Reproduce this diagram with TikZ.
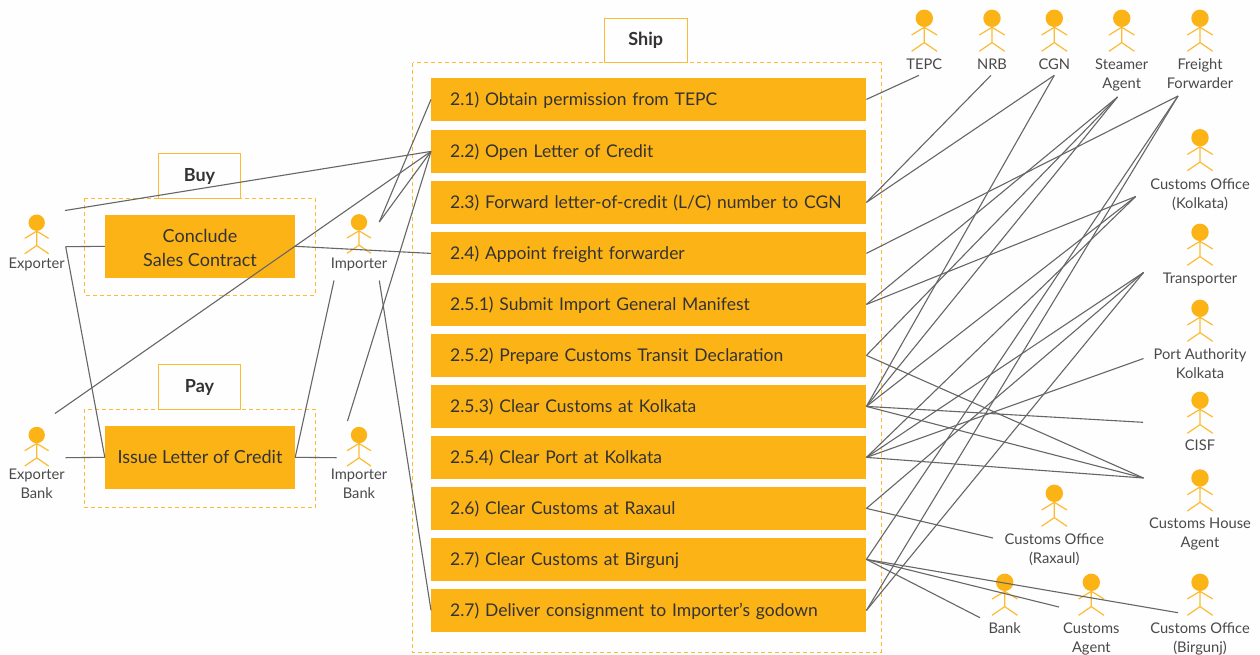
\documentclass[tikz,border=0pt]{standalone}
\usepackage{fontspec}
\setmainfont{Lato}
\definecolor{amber}{HTML}{FCB316}
\definecolor{edgeline}{HTML}{FDBB33}
\definecolor{wire}{HTML}{666666}
\definecolor{ink}{HTML}{333333}
\definecolor{soft}{HTML}{4A4A4A}
\definecolor{paper}{HTML}{FDFEFD}
\tikzset{
  x=1pt,y=-1pt,
  taskbox/.style={anchor=west,fill=amber,inner ysep=0pt,inner xsep=19pt,text width=397pt,align=left,
    minimum height=42.7pt,text=ink,font=\fontsize{17.5}{24}\selectfont,text height=13pt,text depth=1pt},
  activity/.style={fill=amber,inner sep=0pt,minimum width=190pt,minimum height=62.7pt,align=center,text=ink,
    font=\fontsize{18}{24}\selectfont,text height=13pt,text depth=0pt},
  tagbox/.style={draw=edgeline,line width=1pt,fill=paper,inner sep=0pt,text=ink,
    font=\fontsize{18}{20}\selectfont\bfseries,text height=13pt,text depth=2.5pt},
  groupbox/.style={draw=edgeline,line width=1pt,dash pattern=on 4pt off 3pt},
  who/.style={align=center,text=soft,inner sep=0pt,font=\fontsize{14.7}{19}\selectfont,
    text height=11pt,text depth=3.5pt},
  wireline/.style={draw=wire,line width=1.1pt},
  actor/.pic={
    \fill[amber] (0,0) circle [radius=8.7];
    \draw[edgeline,line width=1.2pt]
      (0,9) -- (0,24.3) (-12.7,16.7) -- (0,9) -- (12.7,16.7)
      (-12.7,33) -- (0,24.3) -- (12.7,33);
  }
}
\begin{document}
\begin{tikzpicture}
\useasboundingbox[fill=paper] (0,0) rectangle (1260,654);

% group frames
\draw[groupbox] (84.3,198.3) rectangle (315,295);
\draw[groupbox] (84.3,409.3) rectangle (315,507.7);
\draw[groupbox] (412.7,62.7) rectangle (881,652);

% tags
\node[tagbox,minimum width=82.4pt,minimum height=45pt] (buy) at (199.5,175.8) {Buy};
\node[tagbox,minimum width=82.4pt,minimum height=45pt] (pay) at (199.5,386.8) {Pay};
\node[tagbox,minimum width=83pt,minimum height=44.4pt] (ship) at (645.8,40.5) {Ship};

% activities
\node[activity,text height=39.4pt] (conclude) at (200,246.3) {Conclude\\Sales Contract};
\node[activity] (issue) at (200,457.3) {Issue Letter of Credit};

% tasks
\node[taskbox] (t1) at (431,99.4) {2.1) Obtain permission from TEPC};
\node[taskbox] (t2) at (431,151.4) {2.2) Open Letter of Credit};
\node[taskbox] (t3) at (431,202.4) {2.3) Forward letter-of-credit (L/C) number to CGN};
\node[taskbox] (t4) at (431,253.4) {2.4) Appoint freight forwarder};
\node[taskbox] (t5) at (431,304.4) {2.5.1) Submit Import General Manifest};
\node[taskbox] (t6) at (431,355.4) {2.5.2) Prepare Customs Transit Declaration};
\node[taskbox] (t7) at (431,406.4) {2.5.3) Clear Customs at Kolkata};
\node[taskbox] (t8) at (431,457.4) {2.5.4) Clear Port at Kolkata};
\node[taskbox] (t9) at (431,508.4) {2.6) Clear Customs at Raxaul};
\node[taskbox] (t10) at (431,559.4) {2.7) Clear Customs at Birgunj};
\node[taskbox] (t11) at (431,610.4) {2.7) Deliver consignment to Importer’s godown};

% actors: left group
\pic[scale=.94] at (36.7,222.7) {actor};
\pic[scale=.94] at (359,222.3) {actor};
\pic[scale=.94] at (36.7,435) {actor};
\pic[scale=.94] at (359,435) {actor};
\node[who] (exporter) at (36.7,264.5) {Exporter};
\node[who] (importer) at (359,264.5) {Importer};
\node[who] (exbank) at (36.7,495.2) {Exporter\\Bank};
\node[who] (imbank) at (359,495.2) {Importer\\Bank};

% actors: right group
\pic at (924.3,18.3) {actor};
\pic at (992,18.3) {actor};
\pic at (1054.3,18.3) {actor};
\pic at (1121.7,18.3) {actor};
\pic at (1200,18.3) {actor};
\pic at (1200,137.7) {actor};
\pic at (1200,232.3) {actor};
\pic at (1200,308.3) {actor};
\pic at (1200,400.3) {actor};
\pic at (1200,478) {actor};
\pic at (1054.3,493.3) {actor};
\pic at (1004.7,582.3) {actor};
\pic at (1091.3,582.3) {actor};
\pic at (1200,582.3) {actor};
\node[who] (tepc) at (924.3,65.5) {TEPC};
\node[who] (nrb) at (992,65.5) {NRB};
\node[who] (cgn) at (1054.3,65.5) {CGN};
\node[who] (steamer) at (1121.7,84.7) {Steamer\\Agent};
\node[who] (freight) at (1200,84.7) {Freight\\Forwarder};
\node[who] (cokol) at (1200,204.5) {Customs Office\\(Kolkata)};
\node[who] (transporter) at (1200,279.5) {Transporter};
\node[who] (port) at (1200,374.5) {Port Authority\\Kolkata};
\node[who] (cisf) at (1200,447) {CISF};
\node[who] (cha) at (1200,543.5) {Customs House\\Agent};
\node[who] (corax) at (1054.3,559.3) {Customs Office\\(Raxaul)};
\node[who] (bank) at (1004.7,629.5) {Bank};
\node[who] (agent) at (1091.3,648.5) {Customs\\Agent};
\node[who] (cobir) at (1200,648.5) {Customs Office\\(Birgunj)};

% connector ports of the actors
\coordinate (pExTop) at (65,210.5);
\coordinate (pExMid) at (65.7,246.7);
\coordinate (pXbTop) at (55,413.5);
\coordinate (pXbMid) at (65.7,457.7);
\coordinate (pImTop) at (379.3,222);
\coordinate (pImLowL) at (334,280.5);
\coordinate (pImLowR) at (379.3,280.5);
\coordinate (pIbTop) at (347.5,421);
\coordinate (pIbMid) at (336.5,457.7);
\coordinate (pTepc) at (919,75.3);
\coordinate (pNrb) at (991,75.3);
\coordinate (pCgn) at (1054.3,75.3);
\coordinate (pSteamer) at (1117.5,97);
\coordinate (pFreight) at (1178,96);
\coordinate (pCoKol) at (1135.7,196.5);
\coordinate (pTrans) at (1143.5,272.5);
\coordinate (pPort) at (1143.5,358.5);
\coordinate (pCisf) at (1143,422.3);
\coordinate (pCha) at (1143.5,478);
\coordinate (pCoRax) at (993,538);
\coordinate (pBank) at (980,617.7);
\coordinate (pAgent) at (1059,607);
\coordinate (pCoBir) at (1178,612.7);

% connectors
\begin{scope}[wireline]
\draw (pExTop) -- (t2.west);
\draw (pXbTop) -- (t2.west);
\draw (pImTop) -- (t1.west);
\draw (pImTop) -- (t2.west);
\draw (pIbTop) -- (t2.west);
\draw (conclude.east) -- (t4.west);
\draw (pExMid) -- (conclude.west);
\draw (pExMid) -- (issue.west);
\draw (pXbMid) -- (issue.west);
\draw (issue.east) -- (pIbMid);
\draw (issue.east) -- (pImLowL);
\draw (pImLowR) -- (t11.west);
\draw (t1.east) -- (pTepc);
\draw (t3.east) -- (pNrb);
\draw (t3.east) -- (pCgn);
\draw (t4.east) -- (pFreight);
\draw (t5.east) -- (pCoKol);
\draw (t5.east) -- (pSteamer);
\draw (t6.east) -- (pSteamer);
\draw (t6.east) -- (pCha);
\draw (t7.east) -- (pCgn);
\draw (t7.east) -- (pSteamer);
\draw (t7.east) -- (pCoKol);
\draw (t7.east) -- (pCisf);
\draw (t7.east) -- (pCha);
\draw (t8.east) -- (pCoKol);
\draw (t8.east) -- (pTrans);
\draw (t8.east) -- (pPort);
\draw (t8.east) -- (pCha);
\draw (t9.east) -- (pTrans);
\draw (t9.east) -- (pCoRax);
\draw (t10.east) -- (pFreight);
\draw (t10.east) -- (pBank);
\draw (t10.east) -- (pAgent);
\draw (t10.east) -- (pCoBir);
\draw (t11.east) -- (pFreight);
\draw (t11.east) -- (pTrans);
\end{scope}
\end{tikzpicture}
\end{document}
